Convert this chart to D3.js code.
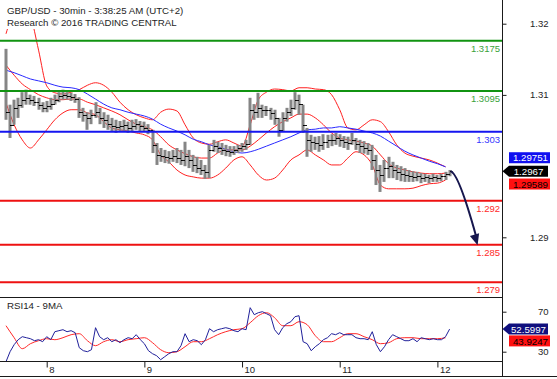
<!DOCTYPE html>
<html><head><meta charset="utf-8">
<script src="https://cdn.jsdelivr.net/npm/d3@7"></script>
<style>
body{margin:0;background:#fff}
svg{display:block;font-family:"Liberation Sans",Arial,sans-serif}
</style>
</head><body>
<svg id="chart" width="557" height="379"></svg>
<script>
// ---------------- DATA ----------------
const titleLine1 = "GBP/USD - 30min - 3:38:25 AM (UTC+2)";
const titleLine2 = "Research \u00A9 2016 TRADING CENTRAL";
const rsiTitle = "RSI14 - 9MA";

// hourly bars starting 2016-08-07 14:00
const barHigh = [1.3162,1.3073,1.3081,1.3084,1.3093,1.3097,1.3089,1.3087,1.3084,1.3077,
1.3079,1.3084,1.3089,1.3093,1.3097,1.3093,1.3092,1.3090,1.3085,1.3068,
1.3061,1.3065,1.3077,1.3068,1.3061,1.3057,1.3052,1.3049,1.3047,1.3049,
1.3046,1.3049,1.3050,1.3047,1.3046,1.3042,1.3033,1.3012,1.3004,1.3001,
1.2999,1.3001,1.3004,1.3001,1.3014,1.3001,1.2993,1.2990,1.2985,1.2977,
1.3009,1.3017,1.3014,1.3012,1.3009,1.3007,1.3007,1.3009,1.3012,1.3017,
1.3084,1.3074,1.3092,1.3073,1.3071,1.3068,1.3065,1.3052,1.3061,1.3068,
1.3081,1.3093,1.3089,1.3073,1.3036,1.3025,1.3022,1.3023,1.3026,1.3025,
1.3026,1.3028,1.3026,1.3023,1.3022,1.3028,1.3020,1.3017,1.3015,1.3012,
1.3009,1.2993,1.2977,1.2985,1.2990,1.2982,1.2977,1.2975,1.2972,1.2969,
1.2967,1.2966,1.2964,1.2963,1.2961,1.2963,1.2961,1.2963,1.2966,1.2969];
const barLow = [1.3049,1.3020,1.3041,1.3052,1.3068,1.3073,1.3073,1.3071,1.3065,1.3061,
1.3061,1.3065,1.3073,1.3077,1.3081,1.3081,1.3079,1.3076,1.3052,1.3046,
1.3033,1.3042,1.3052,1.3042,1.3036,1.3033,1.3030,1.3028,1.3030,1.3031,
1.3028,1.3031,1.3033,1.3031,1.3030,1.3026,1.2996,1.2977,1.2982,1.2980,
1.2979,1.2982,1.2980,1.2977,1.2975,1.2972,1.2966,1.2964,1.2961,1.2955,
1.2956,1.2998,1.2996,1.2993,1.2991,1.2990,1.2993,1.2996,1.2998,1.3001,
1.3009,1.3049,1.3052,1.3052,1.3055,1.3049,1.3041,1.3022,1.3030,1.3046,
1.3055,1.3065,1.3057,1.3028,1.2990,1.2998,1.3001,1.2998,1.3001,1.3004,
1.3007,1.3009,1.3006,1.3004,1.3001,1.3009,1.3001,1.2996,1.2995,1.2993,
1.2969,1.2945,1.2934,1.2950,1.2956,1.2956,1.2953,1.2951,1.2950,1.2950,
1.2950,1.2951,1.2948,1.2950,1.2948,1.2950,1.2950,1.2951,1.2953,1.2959];
const barClose = [1.3061,1.3041,1.3068,1.3073,1.3081,1.3084,1.3081,1.3077,1.3073,1.3068,
1.3071,1.3074,1.3081,1.3087,1.3089,1.3087,1.3085,1.3082,1.3061,1.3057,
1.3052,1.3057,1.3061,1.3052,1.3049,1.3042,1.3039,1.3038,1.3039,1.3041,
1.3036,1.3039,1.3042,1.3039,1.3036,1.3033,1.3009,1.2993,1.2991,1.2990,
1.2988,1.2991,1.2988,1.2985,1.2991,1.2985,1.2977,1.2972,1.2969,1.2966,
1.3001,1.3007,1.3004,1.3001,1.2999,1.2998,1.3001,1.3004,1.3007,1.3010,
1.3065,1.3061,1.3068,1.3065,1.3065,1.3060,1.3052,1.3033,1.3052,1.3061,
1.3068,1.3081,1.3074,1.3041,1.3017,1.3014,1.3012,1.3009,1.3014,1.3017,
1.3017,1.3020,1.3017,1.3014,1.3012,1.3017,1.3010,1.3007,1.3004,1.3001,
1.2985,1.2969,1.2961,1.2972,1.2975,1.2969,1.2966,1.2963,1.2961,1.2959,
1.2958,1.2959,1.2956,1.2958,1.2956,1.2958,1.2956,1.2959,1.2963,1.2967];

// indicator lines sampled every 2 hours from the same start
const bbUpper = [1.3186,1.3224,1.3240,1.3216,1.3160,1.3103,1.3092,1.3090,1.3093,1.3097,
1.3104,1.3108,1.3104,1.3093,1.3077,1.3065,1.3057,1.3052,1.3049,1.3061,
1.3066,1.3063,1.3041,1.3020,1.3012,1.3010,1.3014,1.3017,1.3012,1.3007,
1.3041,1.3081,1.3093,1.3098,1.3097,1.3095,1.3100,1.3100,1.3098,1.3097,
1.3089,1.3065,1.3036,1.3033,1.3041,1.3049,1.3046,1.3030,1.3009,1.2996,
1.2991,1.2988,1.2985,1.2980,1.2974];
const bbMiddle = [1.3136,1.3120,1.3106,1.3097,1.3089,1.3084,1.3081,1.3081,1.3082,1.3082,
1.3077,1.3073,1.3068,1.3063,1.3057,1.3049,1.3042,1.3038,1.3033,1.3022,
1.3009,1.3001,1.2995,1.2990,1.2988,1.2988,1.2996,1.3001,1.3001,1.3001,
1.3007,1.3017,1.3028,1.3038,1.3046,1.3052,1.3058,1.3058,1.3052,1.3041,
1.3028,1.3020,1.3017,1.3015,1.3012,1.3007,1.2993,1.2979,1.2972,1.2969,
1.2966,1.2964,1.2963,1.2963,1.2964];
const bbLower = [1.3076,1.3041,1.3017,1.3004,1.3017,1.3033,1.3049,1.3060,1.3065,1.3065,
1.3060,1.3057,1.3046,1.3036,1.3033,1.3031,1.3028,1.3025,1.3017,1.2993,
1.2982,1.2969,1.2961,1.2958,1.2956,1.2956,1.2961,1.2972,1.2985,1.2990,
1.2977,1.2961,1.2953,1.2956,1.2969,1.2985,1.2993,1.3001,1.2993,1.2985,
1.2977,1.2977,1.2988,1.2998,1.2993,1.2977,1.2945,1.2939,1.2939,1.2939,
1.2940,1.2944,1.2947,1.2948,1.2953];
const maBlue = [1.3128,1.3124,1.3119,1.3114,1.3111,1.3108,1.3104,1.3101,1.3100,1.3097,
1.3090,1.3082,1.3074,1.3068,1.3065,1.3061,1.3058,1.3055,1.3050,1.3042,
1.3036,1.3031,1.3025,1.3018,1.3014,1.3009,1.3006,1.3002,1.2998,1.2996,
1.2998,1.3002,1.3007,1.3012,1.3017,1.3022,1.3028,1.3033,1.3034,1.3036,
1.3036,1.3038,1.3036,1.3034,1.3031,1.3028,1.3023,1.3015,1.3007,1.2999,
1.2993,1.2988,1.2983,1.2979,1.2974];

// RSI hourly, RSI MA every 2 hours
const rsiValues = [20,30,37,42,45,44,43,41,42,40,
45,42,50,51,52,50,51,49,34,31,
30,32,54,45,42,44,40,42,39,42,
44,43,47,42,38,31,28,26,22,25,
28,30,30,36,48,40,42,41,37,42,
53,50,52,53,54,53,51,50,53,52,
74,67,69,70,68,66,52,47,54,58,
60,65,66,40,38,31,35,38,42,44,
48,47,49,47,47,47,44,43,43,42,
50,37,30,35,42,47,45,43,41,41,
43,40,44,43,42,43,42,42,45,52.6];
const rsiMA = [56,44,33,38,41,43,42,44,47,48,
41,36,40,42,40,42,43,44,39,32,
29,30,35,40,40,43,47,50,52,53,
59,66,69,64,56,56,60,57,46,40,
40,44,48,48,45,42,38,39,43,44,
44,43,43,43,43.9];

// levels
const levelValues = [1.3175, 1.3095, 1.303, 1.292, 1.285, 1.279];
const levelLabels = ["1.3175", "1.3095", "1.303", "1.292", "1.285", "1.279"];
const levelKinds  = ["res", "res", "pivot", "sup", "sup", "sup"];
const targetLevel = 1.285;

// axes
const priceTicks = [1.32, 1.31, 1.29];
const priceTickLabels = ["1.32", "1.31", "1.29"];
const rsiTicks = [70, 30];
const dayDates = ["2016-08-08", "2016-08-09", "2016-08-10", "2016-08-11", "2016-08-12"];
const dayLabels = ["8", "9", "10", "11", "12"];

// last values
const lastMA = 1.29751, lastPrice = 1.2967, lastLower = 1.29589;
const lastRsi = 52.5997, lastRsiMA = 43.9247;

// ---------------- DRAW ----------------
const svg = d3.select("#chart");
const W = 557, H = 379;
const axisX = 502.5;
const mainBottom = 297.5, rsiBottom = 361.5, frameBottom = 376.5;

const HOUR = 3600e3;
const T0 = new Date(2016, 7, 7, 14, 0);
const tBar = i => new Date(+T0 + i * HOUR);
const t2h = i => new Date(+T0 + 2 * i * HOUR);

const x = d3.scaleTime().domain([T0, tBar(barHigh.length - 1)]).range([6, 449.6]);
const y = d3.scaleLinear().domain([1.279, 1.3175]).range([282.3, 40.7]);
const yTicks = d3.scaleLinear().domain([1.29, 1.32]).range([237.3, 23.7]);
const yR = d3.scaleLinear().domain([30, 70]).range([351.7, 311.7]);

const kindColor = {res: "#119311", pivot: "#1515f0", sup: "#ee1111"};
const kindText = {res: "#3aa23a", pivot: "#3636ff", sup: "#ff2a2a"};

svg.append("defs").append("clipPath").attr("id", "mainClip")
  .append("rect").attr("x", 0).attr("y", 29).attr("width", axisX).attr("height", mainBottom - 29);
svg.select("defs").append("clipPath").attr("id", "rsiClip")
  .append("rect").attr("x", 0).attr("y", mainBottom + 0.5).attr("width", axisX).attr("height", rsiBottom - mainBottom - 1);

const main = svg.append("g").attr("clip-path", "url(#mainClip)");

// bollinger + MA
const line2h = d3.line().x((d, i) => x(t2h(i))).y(d => y(d)).curve(d3.curveMonotoneX);
[bbUpper, bbMiddle, bbLower].forEach(arr => {
  main.append("path").attr("d", line2h(arr)).attr("fill", "none")
    .attr("stroke", "#ff2020").attr("stroke-width", 1);
});
main.append("path").attr("d", line2h(maBlue)).attr("fill", "none")
  .attr("stroke", "#2a2aff").attr("stroke-width", 1);

// OHLC-style bars (open tick = previous close)
const bars = main.append("g");
barHigh.forEach((h, i) => {
  const cx = Math.round(x(tBar(i)));
  bars.append("rect").attr("x", cx - 1.5).attr("y", y(h)).attr("width", 3)
    .attr("height", Math.max(1, y(barLow[i]) - y(h))).attr("fill", "#858585");
  const cy = Math.round(y(barClose[i])) + 0.5;
  bars.append("line").attr("x1", cx).attr("x2", cx + 2.5).attr("y1", cy).attr("y2", cy)
    .attr("stroke", "#000").attr("stroke-width", 1);
  if (i > 0) {
    const oy = Math.round(y(barClose[i - 1])) + 0.5;
    bars.append("line").attr("x1", cx - 2.5).attr("x2", cx).attr("y1", oy).attr("y2", oy)
      .attr("stroke", "#111").attr("stroke-width", 1);
  }
});

// levels
levelValues.forEach((v, i) => {
  const yy = y(v);
  svg.append("line").attr("x1", 0).attr("x2", axisX).attr("y1", yy).attr("y2", yy)
    .attr("stroke", kindColor[levelKinds[i]]).attr("stroke-width", 2);
  svg.append("text").attr("x", 500).attr("y", yy + 11).attr("text-anchor", "end")
    .attr("font-size", "9.5px").attr("fill", kindText[levelKinds[i]]).text(levelLabels[i]);
});

// arrow to target
{
  const sx = x(tBar(barHigh.length - 1)) + 1, sy = y(lastPrice);
  const tx = sx + 27, ty = y(targetLevel) + 0.5;
  const path = d3.path();
  path.moveTo(sx, sy);
  path.quadraticCurveTo(sx + 8, sy + 2, tx - 1.5, ty - 9);
  svg.append("path").attr("d", path.toString()).attr("fill", "none")
    .attr("stroke", "#16164e").attr("stroke-width", 2);
  const ux = 0.28, uy = 0.96;
  const bx = tx - 11 * ux, by = ty - 11 * uy;
  svg.append("polygon").attr("points", [
    [tx, ty], [bx + 4.8 * uy, by - 4.8 * ux], [bx - 4.8 * uy, by + 4.8 * ux]
  ].map(p => p.join(",")).join(" ")).attr("fill", "#16164e");
}

// header
svg.append("rect").attr("x", 0).attr("y", 0).attr("width", 190).attr("height", 29).attr("fill", "#fff");
svg.append("text").attr("x", 7).attr("y", 13.5).attr("font-size", "9.7px").attr("fill", "#1e1e1e").text(titleLine1);
svg.append("text").attr("x", 7).attr("y", 25.5).attr("font-size", "9.7px").attr("fill", "#1e1e1e").text(titleLine2);

// RSI panel
const rsiG = svg.append("g").attr("clip-path", "url(#rsiClip)");
rsiG.append("path").attr("d", d3.line().x((d, i) => x(t2h(i))).y(d => yR(d)).curve(d3.curveMonotoneX)(rsiMA))
  .attr("fill", "none").attr("stroke", "#ff2828").attr("stroke-width", 1);
rsiG.append("path").attr("d", d3.line().x((d, i) => x(tBar(i))).y(d => yR(d))(rsiValues))
  .attr("fill", "none").attr("stroke", "#20209a").attr("stroke-width", 1);
svg.append("text").attr("x", 7).attr("y", 309.3).attr("font-size", "9.7px").attr("fill", "#1e1e1e").text(rsiTitle);

// frame lines
const frame = svg.append("g").attr("stroke", "#1a1a1a").attr("stroke-width", 1);
frame.append("line").attr("x1", 0).attr("x2", axisX).attr("y1", mainBottom).attr("y2", mainBottom);
frame.append("line").attr("x1", 0).attr("x2", axisX).attr("y1", rsiBottom).attr("y2", rsiBottom);
frame.append("line").attr("x1", 0).attr("x2", W).attr("y1", frameBottom).attr("y2", frameBottom);
frame.append("line").attr("x1", axisX).attr("x2", axisX).attr("y1", 0).attr("y2", frameBottom);

// right axes
function styleAxis(g) {
  g.select(".domain").remove();
  g.selectAll(".tick line").attr("stroke", "#1a1a1a");
  g.selectAll(".tick text").attr("text-anchor", "end").attr("x", 46)
    .attr("font-size", "9.5px").attr("fill", "#1e1e1e").attr("font-family", null);
}
svg.append("g").attr("transform", `translate(${axisX},0)`)
  .call(d3.axisRight(yTicks).tickValues(priceTicks).tickSize(4).tickFormat((d, i) => priceTickLabels[i]))
  .call(styleAxis);
svg.append("g").attr("transform", `translate(${axisX},0)`)
  .call(d3.axisRight(yR).tickValues(rsiTicks).tickSize(4).tickFormat(d3.format("d")))
  .call(styleAxis);

// bottom time axis
const parse = d3.timeParse("%Y-%m-%d");
const xa = svg.append("g").attr("transform", `translate(0,${rsiBottom})`)
  .call(d3.axisBottom(x).tickValues(dayDates.map(parse)).tickSize(6).tickFormat((d, i) => dayLabels[i]));
xa.select(".domain").remove();
xa.selectAll(".tick line").attr("stroke", "#1a1a1a");
xa.selectAll(".tick text").attr("text-anchor", "start").attr("x", 2).attr("y", 11.8).attr("dy", null)
  .attr("font-size", "9.5px").attr("fill", "#1e1e1e").attr("font-family", null);

// value boxes
function valueBox(cy, label, bg, fg, withArrow) {
  const g = svg.append("g");
  const x0 = 509, x1 = 550, h = 11;
  if (withArrow) {
    g.append("path").attr("d", `M${axisX},${cy} L${x0},${cy - h / 2} L${x1 - 2},${cy - h / 2} L${x1 - 2},${cy + h / 2} L${x0},${cy + h / 2} Z`).attr("fill", bg);
  } else {
    g.append("rect").attr("x", x0).attr("y", cy - h / 2).attr("width", x1 - x0).attr("height", h).attr("fill", bg);
  }
  g.append("text").attr("x", (x0 + x1) / 2 + (withArrow ? -1 : 1)).attr("y", cy + 3.6).attr("text-anchor", "middle")
    .attr("font-size", "9.7px").attr("fill", fg).text(label);
}
const py = y(lastPrice);
valueBox(py, String(lastPrice), "#000", "#fff", true);
valueBox(Math.min(y(lastMA), py - 13.5), String(lastMA), "#1010f0", "#fff", false);
valueBox(Math.max(y(lastLower), py + 12.8), String(lastLower), "#ff1010", "#000", false);
const ry = yR(lastRsi);
valueBox(ry, String(lastRsi), "#10107e", "#fff", true);
valueBox(Math.max(yR(lastRsiMA), ry + 11.8), String(lastRsiMA), "#ff1010", "#000", false);
</script>
</body></html>
